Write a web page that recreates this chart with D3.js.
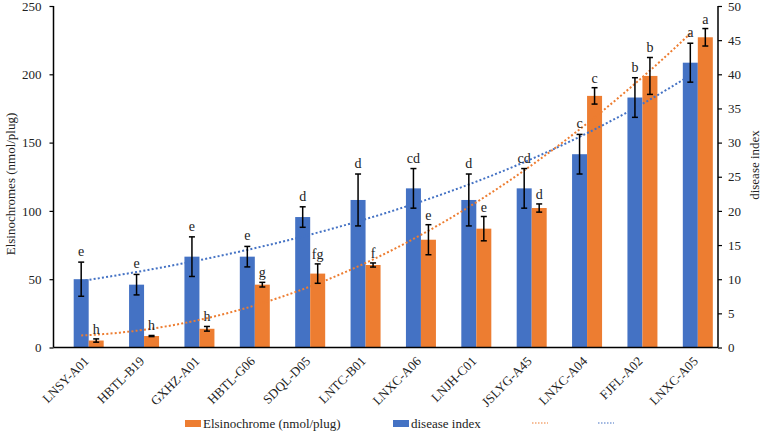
<!DOCTYPE html>
<html><head><meta charset="utf-8">
<script src="https://cdn.jsdelivr.net/npm/d3@7"></script>
<style>html,body{margin:0;padding:0;background:#fff;}svg{display:block;}svg text{font-family:'Liberation Serif','Times New Roman',Times,serif !important;}</style>
</head><body>
<svg id="c" width="764" height="431"></svg>
<script>
const categories = ["LNSY-A01","HBTL-B19","GXHZ-A01","HBTL-G06","SDQL-D05","LNTC-B01","LNXC-A06","LNJH-C01","JSLYG-A45","LNXC-A04","FJFL-A02","LNXC-A05"];
const elsinochrome = [5.1, 8.4, 13.7, 46.0, 54.1, 60.4, 78.9, 87.0, 102.1, 184.2, 198.8, 227.1];
const elsinochromeErr = [1.2, 0.4, 1.7, 1.7, 7.1, 1.5, 11.0, 8.9, 3.0, 6.0, 13.5, 6.4];
const elsinochromeLetters = ["h","h","h","g","fg","f","e","e","d","c","b","a"];
const diseaseIndex = [10.0, 9.2, 13.3, 13.3, 19.1, 21.6, 23.3, 21.6, 23.3, 28.3, 36.6, 41.7];
const diseaseErr = [2.5, 1.5, 2.9, 1.5, 1.5, 3.8, 2.9, 3.8, 2.9, 2.9, 2.9, 2.85];
const diseaseLetters = ["e","e","e","e","d","d","cd","d","cd","c","b","a"];
const leftTicks = [0, 50, 100, 150, 200, 250];
const rightTicks = [0, 5, 10, 15, 20, 25, 30, 35, 40, 45, 50];

const BLUE = "#4472C4", ORANGE = "#ED7D31";
const FONT = "'Liberation Serif', 'Times New Roman', Times, serif";
const svg = d3.select("#c");
const L = 53.5, R = 718, T = 6, B = 347.5;

const x0 = d3.scaleBand().domain(categories).range([L, R]);
const bw = x0.bandwidth();
const x1 = d3.scaleBand().domain(["_", "disease", "elsino"]).range([bw/2 - 22.5, bw/2 + 22.5]);
const yL = d3.scaleLinear().domain([0, 250]).range([B, T]);
const yR = d3.scaleLinear().domain([0, 50]).range([B, T]);

function txt(sel) { return sel.attr("font-family", FONT).attr("fill", "#222"); }

// bars
const g = svg.append("g");
categories.forEach((c, i) => {
  const xb = x0(c) + x1("disease"), xo = x0(c) + x1("elsino"), w = x1.bandwidth();
  g.append("rect").attr("x", xb).attr("y", yR(diseaseIndex[i])).attr("width", w).attr("height", B - yR(diseaseIndex[i])).attr("fill", BLUE);
  g.append("rect").attr("x", xo).attr("y", yL(elsinochrome[i])).attr("width", w).attr("height", B - yL(elsinochrome[i])).attr("fill", ORANGE);
});

// trendlines
const xt = d3.scaleLinear().domain([1, 12]).range([x0(categories[0]) + bw/2, x0(categories[11]) + bw/2]);
const xs = categories.map((_, i) => i + 1);
// exponential fit for disease index
(function(){
  const ly = diseaseIndex.map(Math.log);
  const mx = d3.mean(xs), my = d3.mean(ly);
  const b = d3.sum(xs, (x, i) => (x - mx) * (ly[i] - my)) / d3.sum(xs, x => (x - mx) ** 2);
  const a = my - b * mx;
  const pts = d3.range(1, 12.001, 0.1).map(x => [xt(x), yR(Math.exp(a + b * x))]);
  svg.append("path").attr("d", d3.line()(pts)).attr("fill", "none").attr("stroke", BLUE).attr("stroke-width", 2).attr("stroke-dasharray", "2,2.2");
})();
// polynomial (order 2) fit for elsinochrome
(function(){
  const mx = d3.mean(xs);
  const t = xs.map(x => x - mx);
  const n = t.length;
  const St2 = d3.sum(t, v => v*v), St4 = d3.sum(t, v => v**4);
  const Sy = d3.sum(elsinochrome), Sty = d3.sum(t, (v, i) => v * elsinochrome[i]), St2y = d3.sum(t, (v, i) => v*v*elsinochrome[i]);
  const b = Sty / St2;
  const c = (St2y - St2 * Sy / n) / (St4 - St2 * St2 / n);
  const a = (Sy - c * St2) / n;
  const pts = d3.range(1, 12.001, 0.1).map(x => { const u = x - mx; return [xt(x), yL(a + b*u + c*u*u)]; });
  svg.append("path").attr("d", d3.line()(pts)).attr("fill", "none").attr("stroke", ORANGE).attr("stroke-width", 2).attr("stroke-dasharray", "2,2.2");
})();

// error bars + letters
function errBar(cx, yTop, yBot) {
  svg.append("line").attr("x1", cx).attr("x2", cx).attr("y1", yTop).attr("y2", yBot).attr("stroke", "#000").attr("stroke-width", 1.5);
  [yTop, yBot].forEach(y => svg.append("line").attr("x1", cx - 3).attr("x2", cx + 3).attr("y1", y).attr("y2", y).attr("stroke", "#000").attr("stroke-width", 1.5));
}
categories.forEach((c, i) => {
  const w = x1.bandwidth();
  const cb = x0(c) + x1("disease") + w/2, co = x0(c) + x1("elsino") + w/2;
  const bt = yR(diseaseIndex[i] + diseaseErr[i]);
  errBar(cb, bt, yR(diseaseIndex[i] - diseaseErr[i]));
  const ot = yL(elsinochrome[i] + elsinochromeErr[i]);
  errBar(co, ot, yL(Math.max(0, elsinochrome[i] - elsinochromeErr[i])));
  txt(svg.append("text")).attr("x", cb).attr("y", bt - 6).attr("text-anchor", "middle").attr("font-size", 14).text(diseaseLetters[i]);
  txt(svg.append("text")).attr("x", co).attr("y", ot - 5).attr("text-anchor", "middle").attr("font-size", 14).text(elsinochromeLetters[i]);
});

// axes
const axL = svg.append("g").attr("transform", `translate(${L},0)`)
  .call(d3.axisLeft(yL).tickValues(leftTicks).tickSize(4).tickPadding(8));
const axR = svg.append("g").attr("transform", `translate(${R},0)`)
  .call(d3.axisRight(yR).tickValues(rightTicks).tickSize(4).tickPadding(6));
[axL, axR].forEach(ax => {
  ax.attr("font-family", FONT);
  ax.select(".domain").attr("stroke", "#000").attr("stroke-width", 1.5).attr("d", `M0,${T}V${B}`);
  ax.selectAll(".tick line").attr("stroke", "#000").attr("stroke-width", 1.2);
  ax.selectAll("text").attr("font-size", 13).attr("font-family", FONT).attr("fill", "#222");
});
svg.append("line").attr("x1", L).attr("x2", R).attr("y1", B).attr("y2", B).attr("stroke", "#000").attr("stroke-width", 1.5);

// x labels
categories.forEach(c => {
  txt(svg.append("text")).attr("transform", `translate(${x0(c) + bw/2 + 2},${B + 8}) rotate(-45)`)
    .attr("text-anchor", "end").attr("dy", "0.7em").attr("font-size", 13).text(c);
});

// axis titles
txt(svg.append("text")).attr("transform", `translate(15,184) rotate(-90)`).attr("text-anchor", "middle").attr("font-size", 13).text("Elsinochromes (nmol/plug)");
txt(svg.append("text")).attr("transform", `translate(759,165) rotate(-90)`).attr("text-anchor", "middle").attr("font-size", 13).text("disease index");

// legend
const ly = 423;
svg.append("rect").attr("x", 185).attr("y", ly - 3).attr("width", 16).attr("height", 7).attr("fill", ORANGE);
txt(svg.append("text")).attr("x", 203).attr("y", ly + 4.5).attr("font-size", 13).text("Elsinochrome (nmol/plug)");
svg.append("rect").attr("x", 393).attr("y", ly - 3).attr("width", 16).attr("height", 7).attr("fill", BLUE);
txt(svg.append("text")).attr("x", 411).attr("y", ly + 4.5).attr("font-size", 13).text("disease index");
svg.append("line").attr("x1", 532).attr("x2", 548).attr("y1", ly).attr("y2", ly).attr("stroke", ORANGE).attr("stroke-width", 1.2).attr("stroke-dasharray", "1.5,1.5");
svg.append("line").attr("x1", 598).attr("x2", 614).attr("y1", ly).attr("y2", ly).attr("stroke", BLUE).attr("stroke-width", 1.2).attr("stroke-dasharray", "1.5,1.5");
</script>
</body></html>
